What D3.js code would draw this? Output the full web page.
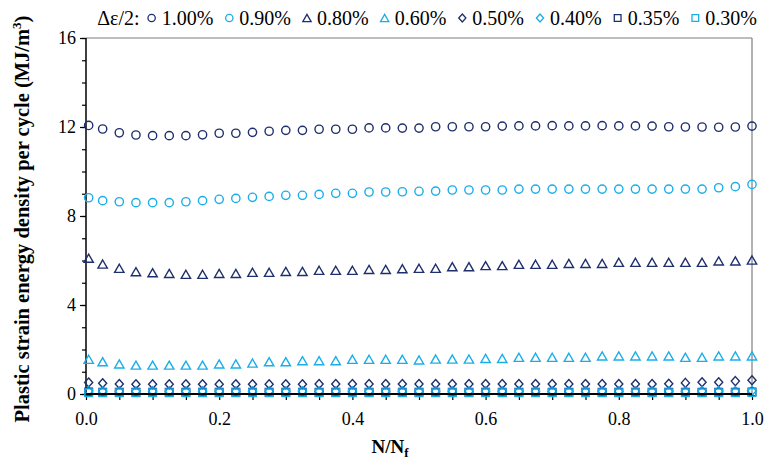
<!DOCTYPE html>
<html>
<head>
<meta charset="utf-8">
<script src="https://cdn.jsdelivr.net/npm/d3@7"></script>
<style>
  html, body { margin: 0; padding: 0; background: #fff; }
  svg { display: block; }
  text { font-family: "Liberation Serif", "Times New Roman", serif; }
</style>
</head>
<body>
<svg id="chart" width="767" height="471"></svg>
<script>
// Normalised life fraction N/Nf for each recorded cycle
const lifeFraction = [0.004, 0.025, 0.05, 0.075, 0.1, 0.125, 0.15, 0.175, 0.2, 0.225,
  0.25, 0.275, 0.3, 0.325, 0.35, 0.375, 0.4, 0.425, 0.45, 0.475,
  0.5, 0.525, 0.55, 0.575, 0.6, 0.625, 0.65, 0.675, 0.7, 0.725,
  0.75, 0.775, 0.8, 0.825, 0.85, 0.875, 0.9, 0.925, 0.95, 0.975, 1.0];

// Plastic strain energy density per cycle (MJ/m3) for each strain amplitude
const amp100 = [12.07, 11.91, 11.74, 11.64, 11.61, 11.61, 11.61, 11.65, 11.72, 11.72,
  11.76, 11.81, 11.85, 11.85, 11.90, 11.90, 11.90, 11.96, 11.96, 11.95,
  11.95, 12.01, 12.01, 12.01, 12.01, 12.04, 12.05, 12.05, 12.06, 12.05,
  12.05, 12.06, 12.05, 12.05, 12.04, 12.01, 12.00, 12.00, 11.99, 12.00, 12.04];
const amp090 = [8.82, 8.69, 8.64, 8.60, 8.60, 8.60, 8.64, 8.69, 8.75, 8.79,
  8.84, 8.88, 8.93, 8.93, 8.97, 9.02, 9.02, 9.08, 9.08, 9.09,
  9.11, 9.12, 9.17, 9.17, 9.17, 9.17, 9.21, 9.21, 9.21, 9.21,
  9.21, 9.21, 9.21, 9.21, 9.21, 9.21, 9.21, 9.21, 9.27, 9.32, 9.42];
const amp080 = [6.10, 5.84, 5.65, 5.50, 5.45, 5.42, 5.38, 5.38, 5.42, 5.42,
  5.47, 5.47, 5.51, 5.51, 5.56, 5.56, 5.56, 5.60, 5.60, 5.63,
  5.65, 5.65, 5.72, 5.72, 5.77, 5.77, 5.83, 5.83, 5.83, 5.87,
  5.87, 5.87, 5.92, 5.92, 5.92, 5.92, 5.92, 5.92, 5.98, 5.98, 6.02];
const amp060 = [1.56, 1.45, 1.35, 1.30, 1.30, 1.30, 1.30, 1.30, 1.35, 1.35,
  1.39, 1.45, 1.45, 1.50, 1.50, 1.50, 1.56, 1.56, 1.56, 1.56,
  1.53, 1.57, 1.57, 1.57, 1.60, 1.60, 1.65, 1.65, 1.65, 1.65,
  1.65, 1.71, 1.71, 1.71, 1.71, 1.71, 1.65, 1.65, 1.71, 1.71, 1.71];
const amp050 = [0.52, 0.48, 0.45, 0.44, 0.44, 0.44, 0.44, 0.44, 0.44, 0.44,
  0.44, 0.44, 0.44, 0.44, 0.45, 0.45, 0.45, 0.45, 0.45, 0.45,
  0.45, 0.45, 0.45, 0.45, 0.45, 0.45, 0.45, 0.45, 0.45, 0.45,
  0.45, 0.45, 0.45, 0.45, 0.45, 0.46, 0.50, 0.53, 0.53, 0.58, 0.62];
const amp040 = [0.13, 0.12, 0.12, 0.12, 0.12, 0.12, 0.12, 0.12, 0.12, 0.12,
  0.12, 0.12, 0.12, 0.12, 0.12, 0.12, 0.12, 0.12, 0.12, 0.12,
  0.12, 0.12, 0.12, 0.12, 0.12, 0.12, 0.12, 0.12, 0.12, 0.12,
  0.12, 0.12, 0.12, 0.12, 0.12, 0.12, 0.12, 0.13, 0.13, 0.13, 0.14];
const amp035 = [0.09, 0.08, 0.08, 0.08, 0.08, 0.08, 0.08, 0.08, 0.08, 0.08,
  0.08, 0.08, 0.08, 0.08, 0.08, 0.08, 0.08, 0.08, 0.08, 0.08,
  0.08, 0.08, 0.08, 0.08, 0.08, 0.08, 0.08, 0.08, 0.08, 0.08,
  0.08, 0.08, 0.08, 0.08, 0.08, 0.08, 0.08, 0.08, 0.08, 0.08, 0.09];
const amp030 = [0.06, 0.06, 0.06, 0.06, 0.06, 0.06, 0.06, 0.06, 0.06, 0.06,
  0.06, 0.06, 0.06, 0.06, 0.06, 0.06, 0.06, 0.06, 0.06, 0.06,
  0.06, 0.06, 0.06, 0.06, 0.06, 0.06, 0.06, 0.06, 0.06, 0.06,
  0.06, 0.06, 0.06, 0.06, 0.06, 0.06, 0.06, 0.06, 0.06, 0.06, 0.07];

const seriesLabels = ["1.00%", "0.90%", "0.80%", "0.60%", "0.50%", "0.40%", "0.35%", "0.30%"];
const seriesValues = [amp100, amp090, amp080, amp060, amp050, amp040, amp035, amp030];
const seriesShapes = ["circle", "circle", "triangle", "triangle", "diamond", "diamond", "square", "square"];
const xTickLabels = ["0.0", "0.2", "0.4", "0.6", "0.8", "1.0"];
const yTickLabels = ["0", "4", "8", "12", "16"];

const NAVY = "#1f2f6e";
const SKY = "#1aaee9";
const seriesColors = [NAVY, SKY, NAVY, SKY, NAVY, SKY, NAVY, SKY];

const svg = d3.select("#chart");
const plot = { left: 86, right: 752, top: 38, bottom: 394 };

const x = d3.scaleLinear().domain([0, 1]).range([plot.left, plot.right]);
const y = d3.scaleLinear().domain([0, 16]).range([plot.bottom, plot.top]);

// Outline path for each hollow marker, centred on (0,0)
function markerPath(shape, s) {
  const p = d3.path();
  if (shape === "circle") {
    p.arc(0, 0, s * 0.46, 0, 2 * Math.PI);
  } else if (shape === "triangle") {
    const h = s * 0.9, w = s * 0.52;
    p.moveTo(0, -h / 2); p.lineTo(w, h / 2); p.lineTo(-w, h / 2); p.closePath();
  } else if (shape === "diamond") {
    const a = s * 0.5;
    p.moveTo(0, -a); p.lineTo(a * 0.9, 0); p.lineTo(0, a); p.lineTo(-a * 0.9, 0); p.closePath();
  } else {
    const a = s * 0.42;
    p.rect(-a, -a, 2 * a, 2 * a);
  }
  return p.toString();
}

// Plot frame: grey top and right edges
svg.append("line").attr("x1", plot.left).attr("x2", plot.right)
  .attr("y1", plot.top).attr("y2", plot.top)
  .attr("stroke", "#7f7f7f").attr("stroke-width", 1.2);
svg.append("line").attr("x1", plot.right).attr("x2", plot.right)
  .attr("y1", plot.top).attr("y2", plot.bottom)
  .attr("stroke", "#7f7f7f").attr("stroke-width", 1.2);

// Y axis: major ticks every 4 with labels, minor ticks every 1
const yAxisG = svg.append("g").attr("transform", `translate(${plot.left},0)`);
yAxisG.call(d3.axisLeft(y).tickValues(d3.range(0, 17, 1)).tickSize(4).tickFormat(""))
  .call(g => g.select(".domain").remove())
  .call(g => g.selectAll(".tick line").attr("stroke", "#000").attr("stroke-width", 1.2));
yAxisG.append("g")
  .call(d3.axisLeft(y).tickValues(yTickLabels.map(Number)).tickSize(6).tickPadding(4)
    .tickFormat((d, i) => yTickLabels[i]))
  .call(g => g.select(".domain").remove())
  .call(g => g.selectAll(".tick line").attr("stroke", "#000").attr("stroke-width", 1.2))
  .call(g => g.selectAll(".tick text").attr("font-size", 18)
    .attr("font-family", "Liberation Serif").attr("fill", "#000"));
svg.append("line").attr("x1", plot.left).attr("x2", plot.left)
  .attr("y1", plot.top).attr("y2", plot.bottom)
  .attr("stroke", "#000").attr("stroke-width", 1.5);

// X axis: ticks every 0.05, labels every 0.2
const xAxisG = svg.append("g").attr("transform", `translate(0,${plot.bottom})`);
xAxisG.call(d3.axisBottom(x).tickValues(d3.range(0, 21).map(i => i / 20)).tickSize(6).tickFormat(""))
  .call(g => g.select(".domain").remove())
  .call(g => g.selectAll(".tick line").attr("stroke", "#000").attr("stroke-width", 1.2));
xAxisG.append("g")
  .call(d3.axisBottom(x).tickValues(xTickLabels.map(Number)).tickSize(0).tickPadding(18)
    .tickFormat((d, i) => xTickLabels[i]))
  .call(g => g.select(".domain").remove())
  .call(g => g.selectAll(".tick text").attr("font-size", 18)
    .attr("font-family", "Liberation Serif").attr("fill", "#000"));

// Data markers
seriesValues.forEach((vals, si) => {
  svg.append("g")
    .selectAll("path")
    .data(vals.map((v, i) => [lifeFraction[i], v]))
    .join("path")
    .attr("transform", d => `translate(${x(d[0])},${y(d[1])})`)
    .attr("d", markerPath(seriesShapes[si], 9))
    .attr("fill", "none")
    .attr("stroke", seriesColors[si])
    .attr("stroke-width", 1.4);
});

// Bottom axis line drawn above the markers
svg.append("line").attr("x1", plot.left).attr("x2", plot.right)
  .attr("y1", plot.bottom).attr("y2", plot.bottom)
  .attr("stroke", "#000").attr("stroke-width", 2);

// Axis titles
svg.append("text")
  .attr("transform", "translate(29,219) rotate(-90)")
  .attr("text-anchor", "middle")
  .attr("font-size", 20.5).attr("font-weight", "bold")
  .html('Plastic strain energy density per cycle (MJ/m<tspan dy="-8" font-size="13">3</tspan><tspan dy="8">)</tspan>');

svg.append("text")
  .attr("x", 390).attr("y", 453)
  .attr("text-anchor", "middle")
  .attr("font-size", 19).attr("font-weight", "bold")
  .html('N/N<tspan dy="4" font-size="13">f</tspan>');

// Legend across the top, right edge at x = 757
const legend = svg.append("g");
let lx = 0;
const ly = 25;
const head = legend.append("text").attr("x", lx).attr("y", ly).attr("font-size", 20).text("Δε/2:");
lx += head.node().getComputedTextLength() + 12;
seriesLabels.forEach((lab, si) => {
  legend.append("path")
    .attr("transform", `translate(${lx},${ly - 7})`)
    .attr("d", markerPath(seriesShapes[si], 8))
    .attr("fill", "none").attr("stroke", seriesColors[si]).attr("stroke-width", 1.3);
  lx += 10;
  const t = legend.append("text").attr("x", lx).attr("y", ly).attr("font-size", 20).text(lab);
  lx += t.node().getComputedTextLength() + (si < seriesLabels.length - 1 ? 16 : 0);
});
legend.attr("transform", `translate(${757 - lx},0)`);
</script>
</body>
</html>
